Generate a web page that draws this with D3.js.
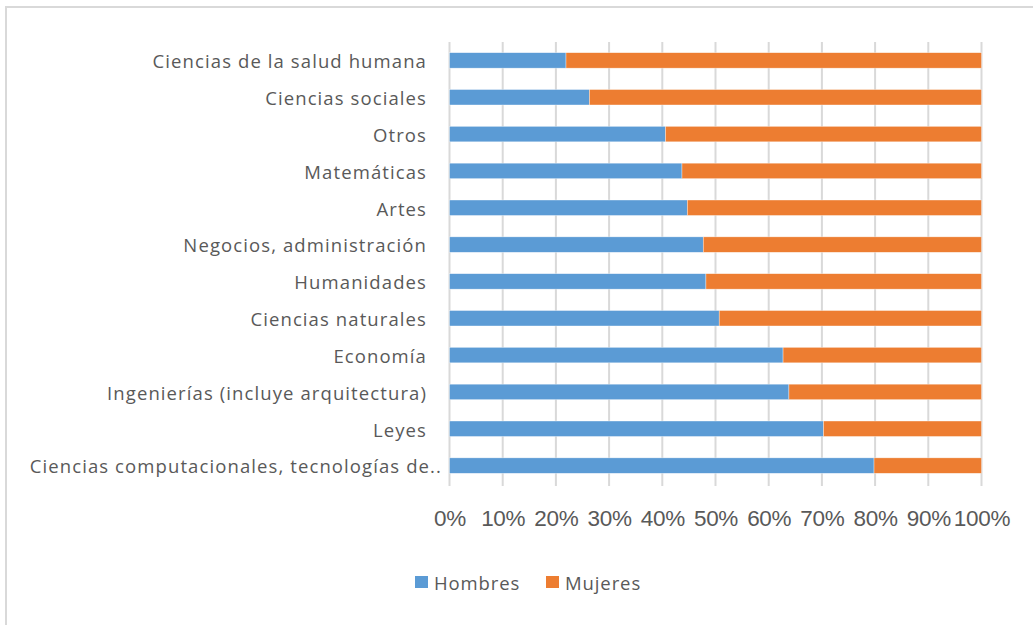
<!DOCTYPE html>
<html>
<head>
<meta charset="utf-8">
<script src="https://cdn.jsdelivr.net/npm/d3@7"></script>
<style>
  body { margin: 0; background: #fff; }
  svg { display: block; }
</style>
</head>
<body>
<svg id="chart" width="1033" height="625"></svg>
<script>
// categories top to bottom
const categories = [
  'Ciencias de la salud humana',
  'Ciencias sociales',
  'Otros',
  'Matemáticas',
  'Artes',
  'Negocios, administración',
  'Humanidades',
  'Ciencias naturales',
  'Economía',
  'Ingenierías  (incluye arquitectura)',
  'Leyes',
  'Ciencias computacionales, tecnologías de..'
];
const hombres = [21.9, 26.3, 40.6, 43.7, 44.7, 47.7, 48.2, 50.7, 62.7, 63.8, 70.3, 79.8];
const mujeres = [78.1, 73.7, 59.4, 56.3, 55.3, 52.3, 51.8, 49.3, 37.3, 36.2, 29.7, 20.2];
const seriesNames = ['Hombres', 'Mujeres'];
const ticks = [0, 10, 20, 30, 40, 50, 60, 70, 80, 90, 100];

const colors = { Hombres: '#5b9bd5', Mujeres: '#ed7d31' };
const textGray = '#595959';
const gridGray = '#d9d9d9';
const labelFont = '"Open Sans", Lato, sans-serif';

const svg = d3.select('#chart');

// outer chart frame (runs off right / bottom like the original)
svg.append('rect')
  .attr('x', 6).attr('y', 7).attr('width', 1040).attr('height', 630)
  .attr('fill', '#fff').attr('stroke', gridGray).attr('stroke-width', 2);

const x = d3.scaleLinear().domain([0, 100]).range([449.5, 981.5]);
const y = d3.scaleBand().domain(categories).range([42, 484]).paddingInner(0.58).paddingOuter(0.29);

// gridlines
svg.append('g').selectAll('line').data(ticks).join('line')
  .attr('x1', d => x(d)).attr('x2', d => x(d))
  .attr('y1', 42).attr('y2', 486)
  .attr('stroke', gridGray).attr('stroke-width', 2);

const rows = categories.map((c, i) => ({ cat: c, Hombres: hombres[i], Mujeres: mujeres[i] }));
const stacked = d3.stack().keys(seriesNames)(rows);

svg.append('g').selectAll('g').data(stacked).join('g')
  .attr('fill', s => colors[s.key])
  .selectAll('rect').data(s => s).join('rect')
    .attr('x', d => x(d[0]))
    .attr('width', d => x(d[1]) - x(d[0]))
    .attr('y', d => y(d.data.cat))
    .attr('height', y.bandwidth())
    .attr('stroke', '#fff').attr('stroke-width', 0.6).attr('stroke-opacity', 0.6);

// category labels (the truncated last one sits a bit further right, as in Excel)
const last = categories[categories.length - 1];
svg.append('g').selectAll('text').data(categories).join('text')
  .attr('x', d => d === last ? 442 : 427)
  .attr('y', d => y(d) + y.bandwidth() / 2)
  .attr('dy', '0.42em').attr('text-anchor', 'end')
  .attr('font-family', labelFont).attr('font-size', 18.5)
  .attr('letter-spacing', 1.1)
  .attr('fill', textGray)
  .text(d => d);

// x axis tick labels
const xAxis = svg.append('g').attr('transform', 'translate(0,518)')
  .call(d3.axisBottom(x).tickValues(ticks).tickSize(0).tickPadding(0).tickFormat(d => d + '%'));
xAxis.select('.domain').remove();
xAxis.selectAll('text')
  .attr('y', 0).attr('dy', '0.36em')
  .attr('font-family', '"Liberation Sans", Arial, sans-serif').attr('font-size', 22.5)
  .attr('letter-spacing', -0.3)
  .attr('fill', textGray);

// legend
const legendItems = [{ name: 'Hombres', x: 415 }, { name: 'Mujeres', x: 546 }];
const lg = svg.append('g').selectAll('g').data(legendItems).join('g')
  .attr('transform', d => `translate(${d.x},576)`);
lg.append('rect').attr('width', 13).attr('height', 12).attr('fill', d => colors[d.name]);
lg.append('text').attr('x', 19).attr('y', 6).attr('dy', '0.42em')
  .attr('font-family', labelFont).attr('font-size', 18.5)
  .attr('letter-spacing', 0.9)
  .attr('fill', textGray).text(d => d.name);
</script>
</body>
</html>
